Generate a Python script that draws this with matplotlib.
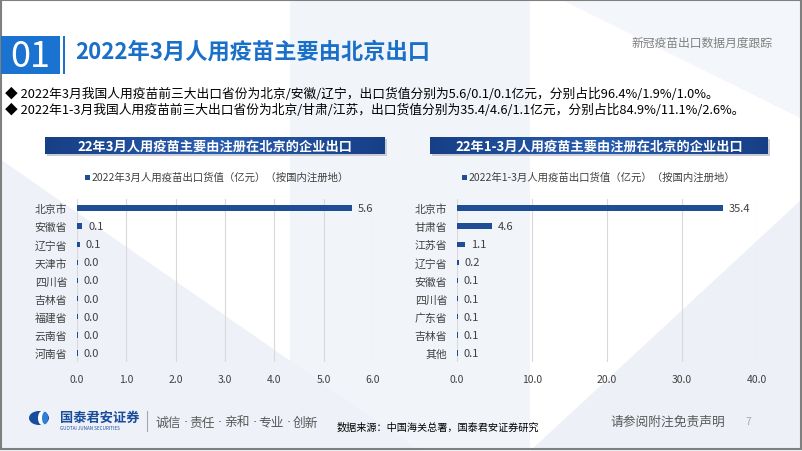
import numpy as np
import matplotlib
matplotlib.use("Agg")
import matplotlib.pyplot as plt
from matplotlib.patches import Rectangle, Polygon, Circle, Ellipse

plt.rcParams["font.family"] = ["Noto Sans CJK SC", "DejaVu Sans"]

# -----------------------------
# DATA
# -----------------------------
left_cats = ["北京市", "安徽省", "辽宁省", "天津市", "四川省", "吉林省", "福建省", "云南省", "河南省"]
left_vals = [5.58, 0.11, 0.06, 0.02, 0.02, 0.02, 0.02, 0.02, 0.02]
left_ticks = [0, 1, 2, 3, 4, 5, 6]

right_cats = ["北京市", "甘肃省", "江苏省", "辽宁省", "安徽省", "四川省", "广东省", "吉林省", "其他"]
right_vals = [35.4, 4.6, 1.1, 0.2, 0.1, 0.1, 0.1, 0.1, 0.1]
right_ticks = [0, 10, 20, 30, 40]

title = "2022年3月人用疫苗主要由北京出口"
bullets = [
    "◆ 2022年3月我国人用疫苗前三大出口省份为北京/安徽/辽宁，出口货值分别为5.6/0.1/0.1亿元，分别占比96.4%/1.9%/1.0%。",
    "◆ 2022年1-3月我国人用疫苗前三大出口省份为北京/甘肃/江苏，出口货值分别为35.4/4.6/1.1亿元，分别占比84.9%/11.1%/2.6%。",
]
left_head = "22年3月人用疫苗主要由注册在北京的企业出口"
right_head = "22年1-3月人用疫苗主要由注册在北京的企业出口"
left_legend = "2022年3月人用疫苗出口货值（亿元）（按国内注册地）"
right_legend = "2022年1-3月人用疫苗出口货值（亿元）（按国内注册地）"
motto = ["诚信", "责任", "亲和", "专业", "创新"]

BAR = "#1f4e96"
W, H = 802, 452

fig = plt.figure(figsize=(W / 100, H / 100), dpi=100)

# background axes in pixel coordinates
bg = fig.add_axes([0, 0, 1, 1])
bg.set_xlim(0, W)
bg.set_ylim(H, 0)
bg.axis("off")

# soft background shapes
bg.add_patch(Polygon([[290, 0], [530, 0], [530, 452], [290, 452]], closed=True, color="#f1f5fa", lw=0))
bg.add_patch(Polygon([[0, 160], [420, 452], [0, 452]], closed=True, color="#eef2f8", lw=0))
bg.add_patch(Polygon([[530, 452], [802, 200], [802, 452]], closed=True, color="#edf1f7", lw=0))
bg.add_patch(Polygon([[560, 0], [802, 0], [802, 120]], closed=True, color="#f3f6fa", lw=0))

# frame
bg.add_patch(Rectangle((0.5, 0.5), W - 1.5, H - 2.5, fill=False, ec="#7f7f7f", lw=1.5))

# header
bg.add_patch(Rectangle((1, 37), 59, 38, color="#1a73d0", lw=0))
bg.text(30, 57, "01", color="white", fontsize=26, ha="center", va="center", fontweight="light")
bg.add_patch(Rectangle((63, 37), 2.2, 38, color="#1a73d0", lw=0))
bg.text(75, 52, title, color="#1a6fc9", fontsize=16, fontweight="bold", va="center", ha="left")
bg.text(773, 43, "新冠疫苗出口数据月度跟踪", color="#7f7f7f", fontsize=8.5, va="center", ha="right")

for i, t in enumerate(bullets):
    bg.text(5, 94 + i * 16, t, color="#000000", fontsize=9.2, va="center", ha="left")


def banner(x0, x1, text):
    bg.add_patch(Rectangle((x0 + 2, 140), x1 - x0, 17, color="#c8ccd4", lw=0))
    grad = np.linspace(0, 1, 256)
    grad = 1 - np.abs(grad - 0.5) * 2
    img = np.zeros((1, 256, 3))
    c0 = np.array([0x16, 0x3f, 0x86]) / 255
    c1 = np.array([0x2a, 0x5e, 0xb0]) / 255
    for k in range(3):
        img[0, :, k] = c0[k] + (c1[k] - c0[k]) * grad
    bg.imshow(img, extent=(x0, x1, 155, 138), aspect="auto", zorder=2)
    bg.text((x0 + x1) / 2, 146.5, text, color="white", fontsize=9.5, fontweight="bold",
            ha="center", va="center", zorder=3)


banner(45, 385, left_head)
banner(430, 768, right_head)
bg.set_xlim(0, W)
bg.set_ylim(H, 0)


def bar_chart(px_left, px_width, cats, vals, ticks, legend_x, legend_text):
    ax = fig.add_axes([px_left / W, 1 - 363 / H, px_width / W, 163 / H])
    ax.patch.set_alpha(0)
    y = np.arange(len(cats))
    ax.barh(y, vals, height=0.3, color=BAR, zorder=3)
    ax.set_xlim(ticks[0], ticks[-1])
    ax.set_ylim(len(cats) - 0.5, -0.5)
    ax.set_xticks(ticks)
    ax.set_xticklabels([f"{t:.1f}" for t in ticks], fontsize=7.5, color="#404040")
    ax.set_yticks(y)
    ax.set_yticklabels(cats, fontsize=7.8, color="#404040")
    ax.tick_params(length=0, axis="x", pad=9)
    ax.tick_params(length=0, axis="y", pad=7)
    ax.grid(axis="x", color="#d9d9d9", lw=0.8, zorder=0)
    for s in ax.spines.values():
        s.set_visible(False)
    off = (ticks[-1] - ticks[0]) * 0.02
    for yi, v in zip(y, vals):
        ax.text(v + off, yi, f"{v:.1f}", va="center", ha="left", fontsize=8, color="#404040")
    bg.add_patch(Rectangle((legend_x, 175.5), 5, 5, color=BAR, lw=0))
    bg.text(legend_x + 7, 178, legend_text, fontsize=7.5, color="#404040", va="center", ha="left")
    return ax


bar_chart(77, 296, left_cats, left_vals, left_ticks, 85, left_legend)
bar_chart(457, 300, right_cats, right_vals, right_ticks, 462, right_legend)

# footer
bg.add_patch(Ellipse((39, 419), 20, 14, color="#1a4c9c", lw=0))
bg.add_patch(Ellipse((42, 419), 8, 14, color="white", lw=0))
bg.add_patch(Ellipse((45, 419), 6, 12.5, color="#2f7fd6", lw=0))
bg.text(60, 418, "国泰君安证券", color="#1a4c9c", fontsize=9.5, fontweight="bold", va="center", ha="left")
bg.text(60, 428.5, "GUOTAI JUNAN SECURITIES", color="#1a4c9c", fontsize=3.3, va="center", ha="left")
bg.plot([147, 147], [412, 432], color="#a6a6a6", lw=0.8)
mx = 155
for i, w in enumerate(motto):
    bg.text(mx, 423, w, color="#595959", fontsize=9.2, va="center", ha="left")
    mx += 26.2
    if i < len(motto) - 1:
        bg.text(mx + 4, 423, "·", color="#595959", fontsize=9.2, va="center", ha="center",
                family="DejaVu Sans")
        mx += 8.3
bg.text(337, 428, "数据来源：中国海关总署，国泰君安证券研究", color="#000000", fontsize=7.3,
        fontweight="medium", va="center", ha="left")
bg.text(610, 422, "请参阅附注免责声明", color="#595959", fontsize=9.2, va="center", ha="left")
bg.text(745, 422, "7", color="#a6a6a6", fontsize=7.5, va="center", ha="left")

fig.savefig("out.png", dpi=100)
